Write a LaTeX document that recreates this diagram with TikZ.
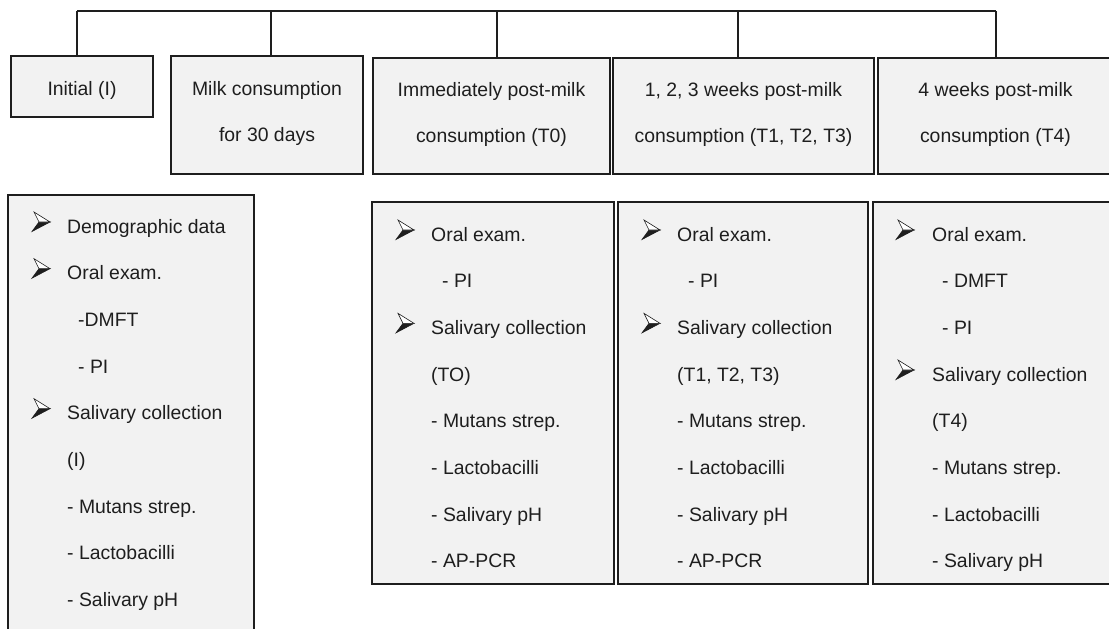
\documentclass[tikz,border=0pt]{standalone}
\usepackage{fontspec}
\setmainfont{Liberation Sans}
\usetikzlibrary{positioning,fit}
\definecolor{boxfill}{HTML}{F2F2F2}
\definecolor{ink}{HTML}{1E1E1E}

\tikzset{
  box/.style={draw=ink, line width=1.6pt, fill=boxfill, inner sep=0pt},
  link/.style={draw=ink, line width=1.6pt},
  title/.style={anchor=base, inner sep=0pt, text=ink},
  item/.style={anchor=base west, inner sep=0pt, text=ink},
  bularrow/.pic={
    \filldraw[ink, line width=0.6pt, line join=miter] (7,-11) -- (18,-11) -- (0,-1.5) -- cycle;
    \filldraw[draw=ink, fill=white, line width=0.6pt, line join=miter] (2,-21) -- (18,-11) -- (7,-11) -- cycle;
  },
}

\begin{document}
\begin{tikzpicture}[x=1pt, y=-1pt, font=\fontsize{19.4}{46.6}\selectfont]
\useasboundingbox (0,0) rectangle (1109,629);

% stages
\node[box, fit={(11,56) (153,117)}] (initial) {};
\node[box, fit={(171,56) (363,174)}] (milk) {};
\node[box, fit={(373,58) (610,174)}] (post0) {};
\node[box, fit={(613,58) (874,174)}] (post123) {};
\node[box, fit={(878,58) (1113,174)}] (post4) {};
\foreach \n/\x/\y/\t in {iniA/82/95/{Initial (I)},
    milkA/267/95/{Milk consumption}, milkB/267/141/{for 30 days},
    ptA/491.5/96/{Immediately post-milk}, ptB/491.5/142.5/{consumption (T0)},
    pwA/743.5/96/{1, 2, 3 weeks post-milk}, pwB/743.5/142.5/{consumption (T1, T2, T3)},
    pfA/995.5/96/{4 weeks post-milk}, pfB/995.5/142.5/{consumption (T4)}}
  \node[title] (\n) at (\x,\y) {\t};

% top bar
\coordinate (bar1) at (77,11);
\coordinate (bar2) at (271,11);
\coordinate (bar3) at (497,11);
\coordinate (bar4) at (738,11);
\coordinate (bar5) at (996,11);
\draw[link] (bar1) -- (bar5);
\foreach \b/\n in {bar1/initial, bar2/milk, bar3/post0, bar4/post123, bar5/post4}
  \draw[link] (\b) -- (\b |- \n.north);

% measurements
\node[box, fit={(8,195) (254,645)}] (listI) {};
\node[box, fit={(372,202) (614,584)}] (listT0) {};
\node[box, fit={(618,202) (868,584)}] (listT123) {};
\node[box, fit={(873,202) (1113,584)}] (listT4) {};

\foreach \dx/\b/\t [count=\i from 0] in {0/1/Demographic data, 0/1/Oral exam., 11/0/-DMFT, 11/0/- PI,
    0/1/Salivary collection, 0/0/(I), 0/0/- Mutans strep., 0/0/- Lactobacilli, 0/0/- Salivary pH}{
  \node[item] (itI\i) at ({67+\dx},{233+46.67*\i}) {\t};
  \ifnum\b=1 \pic (buI\i) at (32,{233+46.67*\i}) {bularrow};\fi
}
\foreach \dx/\b/\t [count=\i from 0] in {0/1/Oral exam., 11/0/- PI, 0/1/Salivary collection, 0/0/(TO),
    0/0/- Mutans strep., 0/0/- Lactobacilli, 0/0/- Salivary pH, 0/0/- AP-PCR}{
  \node[item] (itA\i) at ({431+\dx},{241+46.67*\i}) {\t};
  \ifnum\b=1 \pic (buA\i) at (396,{241+46.67*\i}) {bularrow};\fi
}
\foreach \dx/\b/\t [count=\i from 0] in {0/1/Oral exam., 11/0/- PI, 0/1/Salivary collection, 0/0/{(T1, T2, T3)},
    0/0/- Mutans strep., 0/0/- Lactobacilli, 0/0/- Salivary pH, 0/0/- AP-PCR}{
  \node[item] (itB\i) at ({677+\dx},{241+46.67*\i}) {\t};
  \ifnum\b=1 \pic (buB\i) at (642,{241+46.67*\i}) {bularrow};\fi
}
\foreach \dx/\b/\t [count=\i from 0] in {0/1/Oral exam., 10/0/- DMFT, 10/0/- PI, 0/1/Salivary collection,
    0/0/(T4), 0/0/- Mutans strep., 0/0/- Lactobacilli, 0/0/- Salivary pH}{
  \node[item] (itC\i) at ({932+\dx},{241+46.67*\i}) {\t};
  \ifnum\b=1 \pic (buC\i) at (896,{241+46.67*\i}) {bularrow};\fi
}
\end{tikzpicture}
\end{document}
